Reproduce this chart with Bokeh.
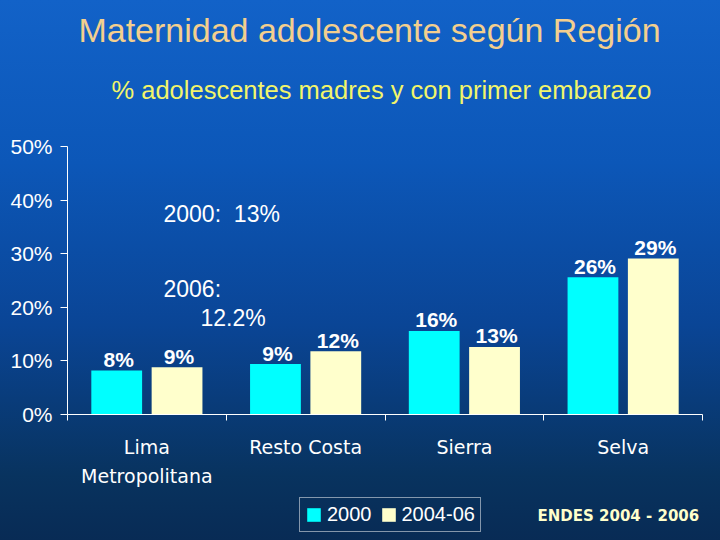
import numpy as np
from bokeh.plotting import figure
from bokeh.models import (ColumnDataSource, Range1d, FixedTicker, PrintfTickFormatter,
                          Label, Legend, LegendItem)
from bokeh.transform import dodge
from bokeh.core.properties import value
from bokeh.embed import file_html
from bokeh.resources import INLINE

# ---------------- data ----------------
regions = ["Lima\nMetropolitana", "Resto Costa", "Sierra", "Selva"]
pct_2000 = [8.2, 9.4, 15.6, 25.6]
pct_2006 = [8.8, 11.8, 12.6, 29.1]
series_names = ["2000", "2004-06"]
y_ticks = [0, 10, 20, 30, 40, 50]
title_text = "Maternidad adolescente según Región"
subtitle_text = "% adolescentes madres y con primer embarazo"
note_2000 = "2000:\u00a0 13%"
note_2006a = "2006:"
note_2006b = "12.2%"
source_text = "ENDES 2004 - 2006"

# ---------------- layout (canvas pixels) ----------------
W, H = 720, 540
AX_L, AX_R, AX_T, AX_B = 67, 702, 146, 414   # plot-area edges on the canvas
Y_MAX = 50
n = len(regions)
ppx = (AX_R - AX_L) / n
ppy = (AX_B - AX_T) / Y_MAX

SANS = "'Liberation Sans', Arial, sans-serif"

centers = np.arange(n) + 0.5
src = ColumnDataSource(dict(
    x=centers,
    v2000=pct_2000,
    v2006=pct_2006,
    l2000=[f"{round(v)}%" for v in pct_2000],
    l2006=[f"{round(v)}%" for v in pct_2006],
))

p = figure(width=W, height=H, output_backend="svg", toolbar_location=None,
           x_range=Range1d(-AX_L / ppx, n + (W - AX_R) / ppx),
           y_range=Range1d(-(H - AX_B) / ppy, Y_MAX + AX_T / ppy),
           min_border=0, min_border_left=0, min_border_right=0,
           min_border_top=0, min_border_bottom=0)
p.styles = {"background": "linear-gradient(to bottom, #1262C8 0%, #0C57B8 30%, #0A4596 60%, #08335F 88%, #082B55 100%)"}
p.border_fill_alpha = 0
p.background_fill_alpha = 0
p.outline_line_color = None
p.grid.visible = False

off, bw = 0.19, 0.32
r1 = p.vbar(x=dodge("x", -off), top="v2000", width=bw, source=src,
            fill_color="#00FFFF", line_color=None)
r2 = p.vbar(x=dodge("x", off), top="v2006", width=bw, source=src,
            fill_color="#FFFFCC", line_color=None)

for col, lab, dx in (("v2000", "l2000", -off), ("v2006", "l2006", off)):
    p.text(x=dodge("x", dx), y=col, text=lab, source=src,
           text_font=value(SANS), text_font_style="bold", text_font_size="21px",
           text_color="white", text_align="center", text_baseline="middle",
           x_offset=2, y_offset=-11)

# y axis
yax = p.yaxis[0]
yax.fixed_location = 0
yax.bounds = (0, Y_MAX)
yax.ticker = FixedTicker(ticks=y_ticks)
yax.formatter = PrintfTickFormatter(format="%d%%")
yax.axis_line_color = "white"
yax.major_tick_line_color = "white"
yax.major_tick_out = 7
yax.major_tick_in = 0
yax.minor_tick_line_color = None
yax.major_label_text_color = "white"
yax.major_label_text_font = SANS
yax.major_label_text_font_size = "21px"
yax.major_label_standoff = 8

# x axis: category labels at centres, tick marks at boundaries
xax = p.xaxis[0]
xax.fixed_location = 0
xax.bounds = (0, n)
xax.ticker = FixedTicker(ticks=[float(c) for c in centers],
                         minor_ticks=[float(i) for i in range(n + 1)])
xax.major_label_overrides = {float(c): name for c, name in zip(centers, regions)}
xax.axis_line_color = "white"
xax.major_tick_line_color = None
xax.major_tick_out = 0
xax.major_tick_in = 0
xax.minor_tick_line_color = "white"
xax.minor_tick_out = 6
xax.minor_tick_in = 0
xax.major_label_text_color = "white"
xax.major_label_text_font = "DejaVu Sans"
xax.major_label_text_font_size = "19px"
xax.major_label_text_line_height = 1.35
xax.major_label_standoff = 15

def add_label(text, cx, cy, align, color, font, size, style="normal"):
    # cy is the vertical centre of the text on the canvas
    p.add_layout(Label(x=cx, y=H - cy, x_units="screen", y_units="screen", text=text,
                       text_align=align, text_baseline="middle",
                       text_color=color, text_font=font, text_font_size=size,
                       text_font_style=style))

add_label(title_text, 369, 29, "center", "#F3CF8E", SANS, "34px")
add_label(subtitle_text, 381, 89, "center", "#F2F56A", SANS, "25.5px")
add_label(note_2000, 163, 213.5, "left", "white", SANS, "23px")
add_label(note_2006a, 163, 288.5, "left", "white", SANS, "23px")
add_label(note_2006b, 200, 317.5, "left", "white", SANS, "23px")
add_label(source_text, 537, 515, "left", "#FFFFCC", "DejaVu Sans", "15px", "bold")

legend = Legend(items=[LegendItem(label=series_names[0], renderers=[r1]),
                       LegendItem(label=series_names[1], renderers=[r2])],
                orientation="horizontal", location=(299, H - 532),
                background_fill_alpha=0, border_line_color="white", border_line_width=1,
                label_text_color="white", label_text_font=SANS, label_text_font_size="20px",
                glyph_width=17, glyph_height=17, label_standoff=5, spacing=8,
                padding=5, margin=0)
p.add_layout(legend, "center")

open("out.html", "w").write(file_html(p, INLINE))
